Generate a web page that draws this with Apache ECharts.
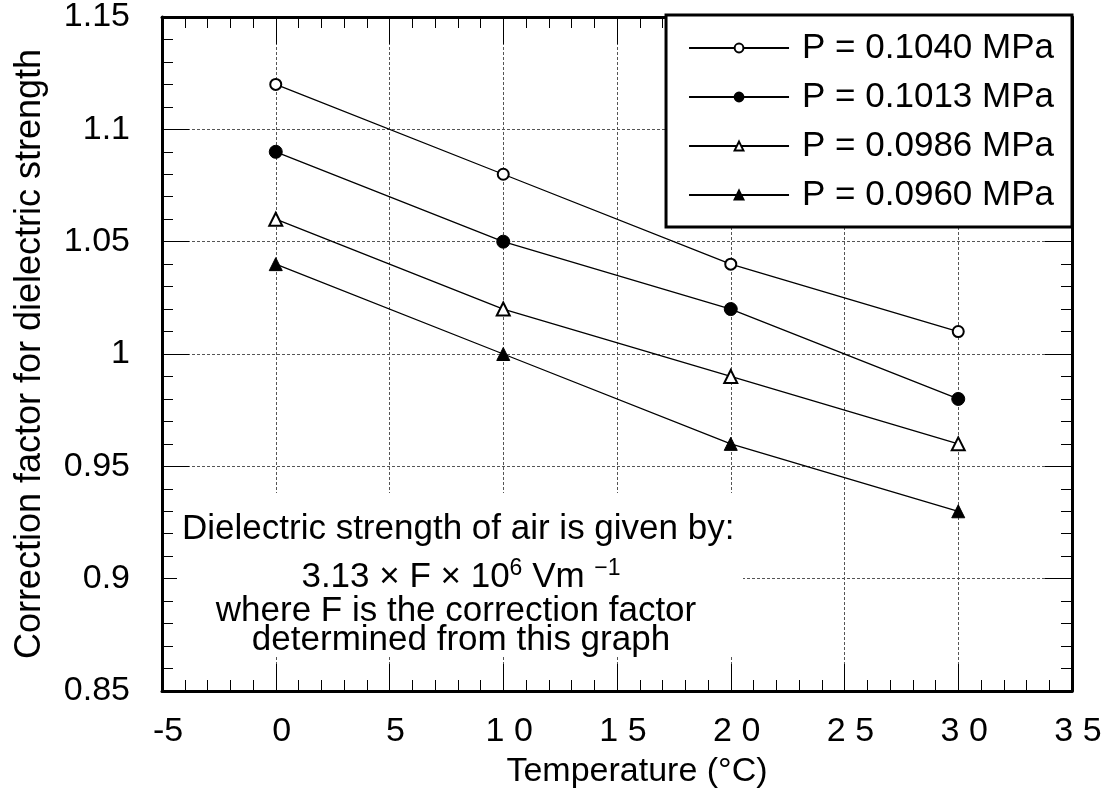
<!DOCTYPE html>
<html>
<head>
<meta charset="utf-8">
<script src="https://cdn.jsdelivr.net/npm/echarts@6/dist/echarts.min.js"></script>
<style>
html,body{margin:0;padding:0;background:#fff;}
#chart{width:1109px;height:805px;}
</style>
</head>
<body>
<div id="chart"></div>
<script>
// ---- data ----
const temperatures = [0, 10, 20, 30];
const seriesNames = ['P = 0.1040 MPa', 'P = 0.1013 MPa', 'P = 0.0986 MPa', 'P = 0.0960 MPa'];
const factorP1040 = [1.12, 1.08, 1.04, 1.01];
const factorP1013 = [1.09, 1.05, 1.02, 0.98];
const factorP0986 = [1.06, 1.02, 0.99, 0.96];
const factorP0960 = [1.04, 1.00, 0.96, 0.93];
const seriesValues = [factorP1040, factorP1013, factorP0986, factorP0960];
const seriesSymbols = ['emptyCircle', 'circle', 'emptyTriangle', 'triangle'];
const xAxisTitle = 'Temperature (°C)';
const yAxisTitle = 'Correction factor for dielectric strength';
const noteLine1 = 'Dielectric strength of air is given by:';
const noteFormula = ['3.13 × F × 10', '6', ' Vm ', '−1'];
const noteLine3 = 'where F is the correction factor';
const noteLine4 = 'determined from this graph';

// ---- chart ----
const FONT = "'Liberation Sans', Arial, Helvetica, sans-serif";
const chart = echarts.init(document.getElementById('chart'), null, {renderer: 'canvas'});

const gridBox = {left: 162, right: 37, top: 15, bottom: 114};

function xLabel(v) {
  return v < 0 ? String(v) : String(v).split('').join(' ');
}
function yLabel(v) {
  return String(+(+v).toFixed(2));
}

const tickCommon = {
  axisLine: {show: true, onZero: false, lineStyle: {color: '#000', width: 3}},
  axisTick: {show: true, inside: true, length: 27, lineStyle: {color: '#000', width: 1}},
  minorTick: {show: true, splitNumber: 5, length: 11, lineStyle: {color: '#000', width: 1}},
};

const series = seriesNames.map((name, i) => ({
  name: name,
  type: 'line',
  xAxisIndex: 0,
  yAxisIndex: 0,
  data: temperatures.map((t, j) => [t, seriesValues[i][j]]),
  symbol: seriesSymbols[i],
  symbolSize: i === 0 ? 11 : 13,
  showSymbol: true,
  lineStyle: {color: '#000', width: 1.3},
  itemStyle: {color: '#000', borderColor: '#000', borderWidth: 1},
  emphasis: {disabled: true},
  z: 3
}));

const option = {
  animation: false,
  backgroundColor: '#fff',
  textStyle: {fontFamily: FONT},
  grid: Object.assign({containLabel: false}, gridBox),
  xAxis: [
    Object.assign({
      type: 'value', position: 'bottom', min: -5, max: 35, interval: 5,
      axisLabel: {show: true, formatter: xLabel, fontSize: 34, color: '#000', fontFamily: FONT, margin: 24, padding: [0, 0, 0, 12]},
      splitLine: {show: true, lineStyle: {color: '#555', width: 1, type: [3, 2]}},
      name: xAxisTitle, nameLocation: 'middle', nameGap: 64,
      nameTextStyle: {fontSize: 34, color: '#000', fontFamily: FONT, padding: [0, 0, 0, 40]},
      z: 0
    }, tickCommon),
    Object.assign({
      type: 'value', position: 'top', min: -5, max: 35, interval: 5,
      axisLabel: {show: false}, splitLine: {show: false}, z: 0
    }, tickCommon)
  ],
  yAxis: [
    Object.assign({
      type: 'value', position: 'left', min: 0.85, max: 1.15, interval: 0.05,
      axisLabel: {show: true, formatter: yLabel, fontSize: 34, color: '#000', fontFamily: FONT, margin: 32},
      splitLine: {show: true, lineStyle: {color: '#555', width: 1, type: [3, 2]}},
      name: yAxisTitle, nameLocation: 'middle', nameGap: 114, nameRotate: 90,
      nameTextStyle: {fontSize: 36, color: '#000', fontFamily: FONT},
      z: 0
    }, tickCommon),
    Object.assign({
      type: 'value', position: 'right', min: 0.85, max: 1.15, interval: 0.05,
      axisLabel: {show: false}, splitLine: {show: false}, z: 0
    }, tickCommon)
  ],
  legend: {
    show: true,
    data: seriesNames,
    orient: 'vertical',
    right: 37, top: 15,
    backgroundColor: '#fff',
    borderColor: '#000', borderWidth: 3, borderRadius: 0,
    padding: [15, 18, 14, 22],
    itemWidth: 100, itemHeight: 11, itemGap: 13,
    textStyle: {fontSize: 35, color: '#000', fontFamily: FONT, padding: [0, 0, 0, 8], lineHeight: 36},
    selectedMode: false,
    z: 6
  },
  graphic: [
    {
      type: 'rect', z: 5,
      shape: {x: 177, y: 493, width: 566, height: 164},
      style: {fill: '#fff'}
    },
    {
      type: 'text', z: 7,
      x: 182, y: 529,
      style: {text: noteLine1, font: '35px ' + FONT, fill: '#000', textAlign: 'left', textVerticalAlign: 'middle'}
    },
    {
      type: 'text', z: 7,
      x: 461, y: 576,
      style: {
        text: '{a|' + noteFormula[0] + '}{s|' + noteFormula[1] + '}{a|' + noteFormula[2] + '}{s|' + noteFormula[3] + '}',
        rich: {
          a: {fontSize: 35, fontFamily: FONT, fill: '#000', lineHeight: 38, verticalAlign: 'bottom'},
          s: {fontSize: 23, fontFamily: FONT, fill: '#000', lineHeight: 38, verticalAlign: 'top'}
        },
        textAlign: 'center', textVerticalAlign: 'middle'
      }
    },
    {
      type: 'text', z: 7,
      x: 456, y: 611,
      style: {text: noteLine3, font: '35px ' + FONT, fill: '#000', textAlign: 'center', textVerticalAlign: 'middle'}
    },
    {
      type: 'text', z: 7,
      x: 461, y: 640,
      style: {text: noteLine4, font: '35px ' + FONT, fill: '#000', textAlign: 'center', textVerticalAlign: 'middle'}
    }
  ],
  series: series
};
chart.setOption(option);
</script>
</body>
</html>
